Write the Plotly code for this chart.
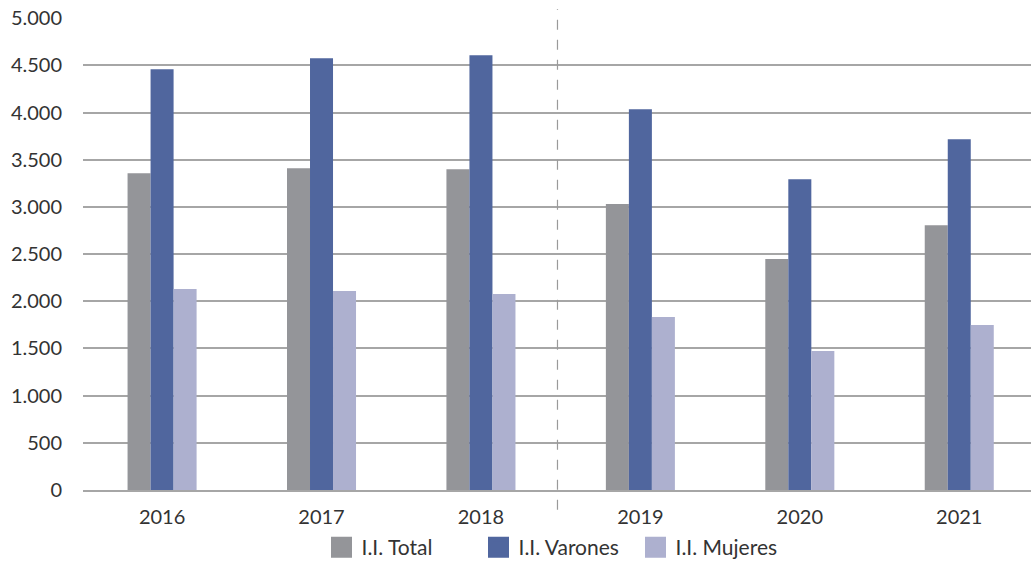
import plotly.graph_objects as go

# Data
years = ["2016", "2017", "2018", "2019", "2020", "2021"]
total = [3358, 3411, 3400, 3030, 2447, 2807]
varones = [4460, 4576, 4608, 4036, 3294, 3718]
mujeres = [2129, 2108, 2076, 1833, 1472, 1748]

series_names = ["I.I. Total", "I.I. Varones", "I.I. Mujeres"]
series_colors = ["#949599", "#50669E", "#ADB0CF"]

fig = go.Figure()
for name, vals, color in zip(series_names, [total, varones, mujeres], series_colors):
    fig.add_trace(go.Bar(
        x=years,
        y=vals,
        name=name,
        marker=dict(color=color, line=dict(width=0)),
        showlegend=False,
    ))
    # legend entry with a bigger square swatch
    fig.add_trace(go.Scatter(
        x=[None], y=[None],
        mode="markers",
        name=name,
        marker=dict(symbol="square", size=16, color=color,
                    line=dict(color=color, width=5)),
    ))

# dashed separator between 2018 and 2019
fig.add_shape(
    type="line",
    xref="x", yref="paper",
    x0=2.48, x1=2.48, y0=-0.042, y1=1.019,
    line=dict(color="#9a9a9a", width=1.2, dash="10px,10px"),
)

fig.update_layout(
    barmode="group",
    bargap=0.567,
    bargroupgap=0,
    separators=",.",
    width=1031,
    height=561,
    margin=dict(l=83, r=0, t=18, b=71, autoexpand=False),
    paper_bgcolor="white",
    plot_bgcolor="white",
    font=dict(family="Lato, 'Open Sans', sans-serif", size=20, color="#333333"),
    legend=dict(
        orientation="h",
        x=0.5, xanchor="center",
        y=-0.122, yanchor="middle",
        font=dict(size=21, color="#333333"),
        itemwidth=30,
        entrywidth=112,
        entrywidthmode="pixels",
        traceorder="normal",
        itemsizing="trace",
        tracegroupgap=0,
    ),
)

fig.update_xaxes(
    range=[-0.496, 5.45],
    showgrid=False,
    showline=True,
    linecolor="#a6a6a6",
    linewidth=1.5,
    ticks="",
    ticklabelstandoff=8,
    automargin=False,
)

fig.update_yaxes(
    range=[0, 5002],
    dtick=500,
    tickformat=",d",
    showgrid=True,
    gridcolor="#a6a6a6",
    gridwidth=1.5,
    zeroline=False,
    showline=False,
    ticks="",
    ticklabelstandoff=20,
    automargin=False,
)

# drop the default page margin so the figure sits at the window's corner
fig.write_html(
    "out.html",
    config={"displayModeBar": False},
    post_script="document.body.style.margin='0';document.body.style.overflow='hidden';",
)
